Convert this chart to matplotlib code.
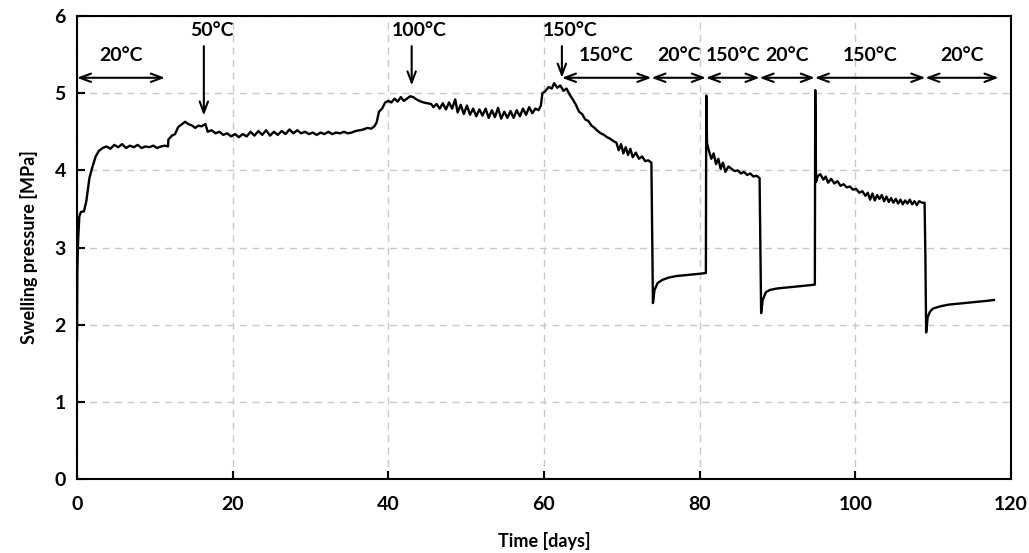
import matplotlib.pyplot as plt

plt.rcParams['font.family'] = ['Lato', 'DejaVu Sans']
plt.rcParams['font.weight'] = 'bold'

# swelling pressure record
time_days = [
    0, 0.05, 0.15, 0.3, 0.5, 0.9, 1.2, 1.6, 2.0, 2.4, 2.8, 3.3, 3.8, 4.3, 4.8, 5.3, 5.8, 6.3,
    6.8, 7.3, 7.8, 8.3, 8.8, 9.3, 9.8, 10.3, 10.8, 11.3, 11.7,
    11.75, 12.2, 12.6, 13.0, 13.5, 13.9, 14.3, 14.8, 15.2, 15.6, 16.0, 16.5, 16.8, 17.3, 17.8,
    18.3, 18.8, 19.3, 19.8, 20.3, 20.8, 21.3, 21.8, 22.3, 22.8, 23.3, 23.8, 24.3, 24.8, 25.3,
    25.8, 26.3, 26.8, 27.3, 27.8, 28.3, 28.8, 29.3, 29.8, 30.3, 30.8, 31.3, 31.8, 32.3, 32.8,
    33.3, 33.8, 34.3, 34.8, 35.3, 35.8, 36.3, 36.8, 37.3, 37.8, 38.2, 38.5, 38.8, 39.2, 39.6,
    40.0, 40.4, 40.8, 41.2, 41.6, 42.0, 42.4, 42.8, 43.2, 43.6, 44.0, 44.5, 45.0, 45.5, 45.8,
    46.2, 46.6, 47.0, 47.4, 47.8, 48.2, 48.6, 48.9, 49.3, 49.7, 50.1, 50.5, 50.9, 51.3, 51.7,
    52.1, 52.5, 52.9, 53.3, 53.7, 54.1, 54.5, 54.9, 55.3, 55.7, 56.1, 56.5, 56.9, 57.3, 57.7,
    58.1, 58.5, 58.9, 59.3, 59.6, 59.8, 60.2, 60.6, 61.0, 61.3, 61.7, 62.1, 62.5, 62.9, 63.3,
    63.7, 64.1, 64.5, 64.9, 65.3, 65.7, 66.1, 66.5, 66.9, 67.3, 67.7, 68.1, 68.5, 68.9, 69.3,
    69.6, 69.9, 70.2, 70.5, 70.8, 71.1, 71.4, 71.8, 72.2, 72.6, 73.0, 73.4, 73.8,
    73.9, 74.0, 74.2, 74.6, 75.2, 76.0, 77, 78, 79, 80, 80.8,
    80.85, 80.95, 81.2, 81.5, 81.8, 82.1, 82.4, 82.7, 83.0, 83.3, 83.7, 84.1, 84.5, 84.9, 85.3,
    85.7, 86.1, 86.5, 86.9, 87.3, 87.7,
    87.8, 87.9, 88.1, 88.5, 89, 90, 91, 92, 93, 94, 94.8,
    94.85, 94.95, 95.2, 95.5, 95.9, 96.2, 96.5, 96.9, 97.3, 97.7, 98.1, 98.5, 98.9, 99.3, 99.7,
    100.1, 100.5, 100.9, 101.3, 101.6, 101.9, 102.2, 102.5, 102.8, 103.1, 103.4, 103.7, 104.0,
    104.3, 104.6, 104.9, 105.2, 105.5, 105.8, 106.1, 106.4, 106.7, 107.0, 107.3, 107.6, 107.9,
    108.2, 108.6, 108.9,
    109.0, 109.1, 109.3, 109.6, 110, 111, 112, 113, 114, 115, 116, 117, 117.8,
]
pressure_mpa = [
    1.8, 2.7, 3.1, 3.4, 3.46, 3.47, 3.6, 3.9, 4.05, 4.18, 4.25, 4.29, 4.31, 4.28, 4.33, 4.30,
    4.34, 4.29, 4.32, 4.30, 4.33, 4.29, 4.31, 4.30, 4.32, 4.29, 4.31, 4.32, 4.31,
    4.40, 4.45, 4.47, 4.56, 4.60, 4.63, 4.60, 4.58, 4.55, 4.58, 4.57, 4.60, 4.50, 4.52, 4.48,
    4.50, 4.46, 4.48, 4.44, 4.47, 4.43, 4.47, 4.44, 4.50, 4.45, 4.51, 4.46, 4.52, 4.45, 4.50,
    4.46, 4.51, 4.47, 4.53, 4.48, 4.52, 4.48, 4.50, 4.47, 4.49, 4.46, 4.49, 4.47, 4.50, 4.47,
    4.49, 4.48, 4.50, 4.48, 4.49, 4.51, 4.52, 4.53, 4.55, 4.54, 4.57, 4.62, 4.76, 4.80, 4.88,
    4.90, 4.88, 4.93, 4.89, 4.95, 4.90, 4.93, 4.96, 4.95, 4.92, 4.90, 4.88, 4.87, 4.86, 4.82,
    4.86, 4.80, 4.87, 4.79, 4.88, 4.80, 4.92, 4.75, 4.85, 4.73, 4.84, 4.72, 4.80, 4.70, 4.79,
    4.71, 4.80, 4.68, 4.78, 4.69, 4.81, 4.67, 4.76, 4.68, 4.77, 4.68, 4.78, 4.70, 4.80, 4.72,
    4.82, 4.74, 4.80, 4.78, 4.84, 5.00, 5.03, 5.08, 5.06, 5.13, 5.07, 5.10, 5.03, 5.06, 4.98,
    4.92, 4.85, 4.76, 4.73, 4.66, 4.64, 4.58, 4.55, 4.51, 4.48, 4.46, 4.43, 4.41, 4.38, 4.36,
    4.26, 4.34, 4.22, 4.30, 4.20, 4.28, 4.17, 4.23, 4.15, 4.18, 4.12, 4.13, 4.10,
    3.20, 2.28, 2.45, 2.54, 2.58, 2.61, 2.63, 2.64, 2.65, 2.66, 2.67,
    4.97, 4.35, 4.25, 4.15, 4.22, 4.08, 4.15, 4.02, 4.10, 3.98, 4.05, 4.02, 3.99, 4.00, 3.96,
    3.98, 3.94, 3.96, 3.92, 3.93, 3.90,
    3.00, 2.15, 2.32, 2.42, 2.45, 2.47, 2.48, 2.49, 2.50, 2.51, 2.52,
    5.04, 3.85, 3.93, 3.95, 3.88, 3.92, 3.84, 3.89, 3.83, 3.86, 3.80, 3.82, 3.78, 3.79, 3.75,
    3.76, 3.71, 3.73, 3.67, 3.71, 3.62, 3.70, 3.61, 3.68, 3.63, 3.68, 3.60, 3.66,
    3.59, 3.64, 3.58, 3.63, 3.57, 3.62, 3.56, 3.61, 3.57, 3.62, 3.56, 3.60, 3.55,
    3.60, 3.58, 3.58,
    2.90, 1.90, 2.10, 2.17, 2.21, 2.24, 2.26, 2.27, 2.28, 2.29, 2.30, 2.31, 2.32,
]

# temperature stages: double arrows (start, end, label)
stage_start = [0, 62.3, 73.8, 80.8, 87.7, 94.8, 109.0]
stage_end = [11.3, 73.8, 80.8, 87.7, 94.8, 109.0, 118.4]
stage_label = ['20°C', '150°C', '20°C', '150°C', '20°C', '150°C', '20°C']

# single down arrows marking heating steps (x, tip y, label)
step_x = [16.3, 43.0, 62.3]
step_tip = [4.71, 5.10, 5.20]
step_label = ['50°C', '100°C', '150°C']

fig = plt.figure(figsize=(10.29, 5.53), dpi=100)
ax = fig.add_axes([0.0748, 0.1338, 0.9077, 0.8372])

ax.plot(time_days, pressure_mpa, color='black', lw=1.7, zorder=3)

ax.set_xlim(0, 120)
ax.set_ylim(0, 6)
ax.set_xticks(range(0, 121, 20))
ax.set_yticks(range(0, 7))
ax.grid(True, color='#c8c8c8', linestyle=(0, (5, 4)), lw=1.0)
ax.tick_params(direction='in', length=6, width=1.5, labelsize=14, pad=8)
ax.tick_params(axis='x', pad=12)
for s in ax.spines.values():
    s.set_linewidth(1.5)
for lbl in ax.get_xticklabels() + ax.get_yticklabels():
    lbl.set_fontweight('bold')

ax.set_xlabel('Time [days]', fontsize=13, fontweight='bold', labelpad=14)
ax.set_ylabel('Swelling pressure [MPa]', fontsize=13, fontweight='bold', labelpad=12)

arr_y = 5.2
for x0, x1, lab in zip(stage_start, stage_end, stage_label):
    ax.annotate('', xy=(x1, arr_y), xytext=(x0, arr_y),
                arrowprops=dict(arrowstyle='<->,head_length=0.8,head_width=0.3',
                                color='black', lw=1.5, shrinkA=0, shrinkB=0))
    ax.text((x0 + x1) / 2, 5.49, lab, ha='center', va='center',
            fontsize=14, fontweight='bold')

for x, tip, lab in zip(step_x, step_tip, step_label):
    ax.annotate('', xy=(x, tip), xytext=(x, 5.61),
                arrowprops=dict(arrowstyle='->,head_length=0.8,head_width=0.3',
                                color='black', lw=1.5, shrinkA=0, shrinkB=0))
    ax.text(x + 1.0, 5.81, lab, ha='center', va='center',
            fontsize=14, fontweight='bold')

fig.savefig('out.png', dpi=100)
